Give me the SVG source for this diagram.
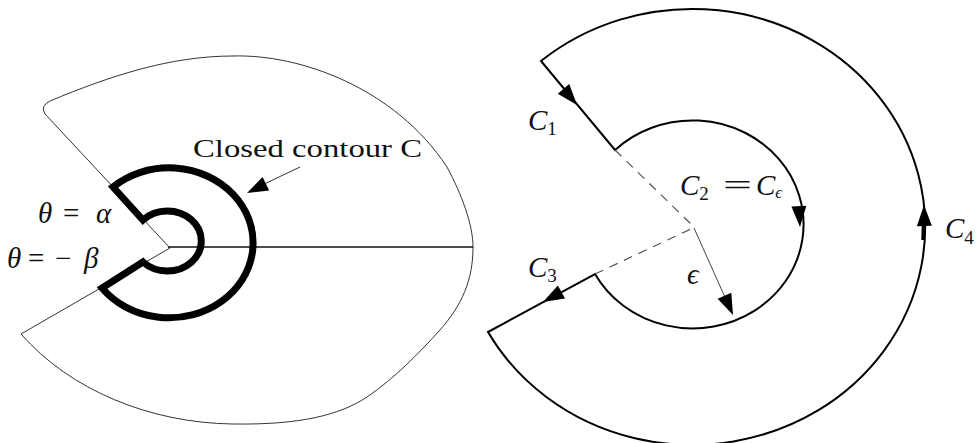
<svg xmlns="http://www.w3.org/2000/svg" width="980" height="443" viewBox="0 0 980 443">
<style>
.thin{fill:none;stroke:#333;stroke-width:1}
.axis{fill:none;stroke:#111;stroke-width:1.6}
.thick{fill:none;stroke:#000;stroke-width:7;stroke-linejoin:miter}
.cont{fill:none;stroke:#000;stroke-width:2;stroke-linejoin:miter}
.dash{fill:none;stroke:#555;stroke-width:1.2;stroke-dasharray:9 7}
.rad{fill:none;stroke:#444;stroke-width:1}
.head{fill:#000}
text{font-family:"Liberation Serif","Times New Roman",serif;fill:#111}
.m{font-style:italic;font-size:29px}
.r{font-size:29px}
.s{font-size:19px}
.se{font-style:italic;font-size:17px}
.lbl{font-size:26px}
</style>
<defs>
<path id="ah" d="M0,0 L-21,-7.5 L-21,7.5 Z"/>
</defs>

<!-- Left figure -->
<g id="region">
<path class="thin" d="M170,248 L45,114 Q40,106 50,101 C110,76 170,56 233,56 C300,54 395,88 447,167 C462,195 473,225 473,247 C473,280 462,305 440,330 C420,352 395,378 367,397 C340,415 300,425 233,424 C150,423 70,390 21,334 L170,248"/>
<line class="axis" x1="168" y1="247" x2="473" y2="247"/>
</g>
<g id="contourC">
<path class="thick" d="M113,187 A84 75 0 1 1 102,288 L143,262 A34 30 0 1 0 143,220 Z"/>
</g>
<g id="label-closed">
<text class="lbl" x="193" y="157" textLength="229" lengthAdjust="spacingAndGlyphs">Closed contour C</text>
</g>
<g id="label-alpha">
<text y="223"><tspan class="m" x="38">θ</tspan><tspan class="r" x="63">=</tspan><tspan class="m" x="96">α</tspan></text>
</g>
<g id="label-beta">
<text y="268"><tspan class="m" x="7">θ</tspan><tspan class="r" x="28">=</tspan><tspan class="r" x="55">−</tspan><tspan class="m" x="84">β</tspan></text>
</g>

<!-- Right figure -->
<g id="keyhole">
<path class="cont" d="M541,61 L615,150 A111 104 0 1 1 595,274 L488,332 A233 218 0 1 0 541,61 Z"/>
</g>
<g id="label-C1"><text class="m" x="528" y="130">C<tspan class="s" font-style="normal" dy="5">1</tspan></text></g>
<g id="label-C2"><text class="m" x="680" y="195">C<tspan class="s" font-style="normal" dy="5">2</tspan></text>
<text class="r" x="723" y="195" textLength="29" lengthAdjust="spacingAndGlyphs">=</text>
<text class="m" x="756" y="195">C<tspan class="se" dy="3">ϵ</tspan></text></g>
<g id="label-C3"><text class="m" x="528" y="277">C<tspan class="s" font-style="normal" dy="5">3</tspan></text></g>
<g id="label-C4"><text class="m" x="945" y="238">C<tspan class="s" font-style="normal" dy="6">4</tspan></text></g>
<g id="label-eps"><text class="m" x="687" y="284" font-size="23">ϵ</text></g>

<!-- Connectors -->
<g id="connectors">
<line class="thin" x1="300" y1="167" x2="258" y2="187"/>
<use href="#ah" class="head" transform="translate(247,193) rotate(154)"/>
<line class="dash" x1="615" y1="150" x2="692" y2="225"/>
<line class="dash" x1="595" y1="274" x2="693" y2="228"/>
<line class="rad" x1="694" y1="228" x2="728" y2="304"/>
<use href="#ah" class="head" transform="translate(577,105) rotate(50)"/>
<use href="#ah" class="head" transform="translate(733,315) rotate(66)"/>
<use href="#ah" class="head" transform="translate(800,227) rotate(87)"/>
<use href="#ah" class="head" transform="translate(543,302) rotate(151.5)"/>
<use href="#ah" class="head" transform="translate(924,205) rotate(-91)"/>
<line x1="923.5" y1="224" x2="923" y2="240" stroke="#000" stroke-width="3.5"/>
</g>
</svg>
